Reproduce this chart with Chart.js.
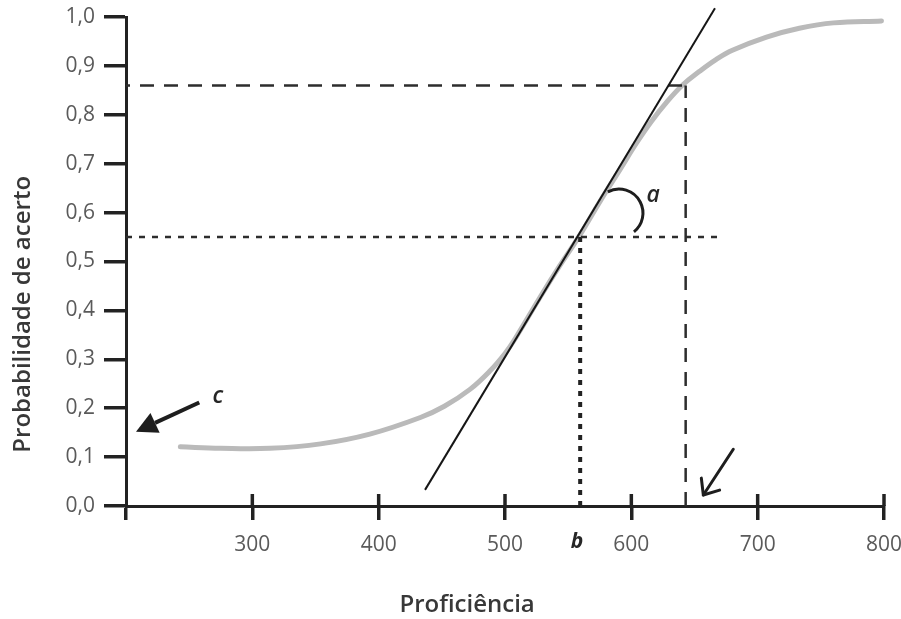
<!DOCTYPE html>
<html>
<head>
<meta charset="utf-8">
<script src="https://cdn.jsdelivr.net/npm/chart.js@4"></script>
<style>
  html, body { margin: 0; padding: 0; background: #ffffff; }
  #wrap { width: 901px; height: 619px; position: relative; }
</style>
</head>
<body>
<div id="wrap"><canvas id="chart"></canvas></div>
<script>
// ---- data ----
const curveX = [243, 275, 314, 354, 393, 433, 452, 472, 488, 500, 508, 528, 543, 559, 575, 591, 604, 616, 628, 641, 654, 667, 680, 707, 733, 760, 798];
const curveY = [0.121, 0.118, 0.118, 0.127, 0.147, 0.181, 0.204, 0.238, 0.276, 0.312, 0.342, 0.428, 0.490, 0.553, 0.622, 0.688, 0.742, 0.787, 0.826, 0.862, 0.889, 0.913, 0.932, 0.959, 0.977, 0.988, 0.992];

const tangentX = [436.7, 666.2];
const tangentY = [0.033, 1.018];

const dashedRefX = 643;     // vertical dashed line
const dashedRefY = 0.86;    // horizontal dashed line
const dottedRefX = 559.5;   // vertical dotted line (b)
const dottedRefY = 0.55;    // horizontal dotted line
const dottedRefEnd = 669;   // where the horizontal dotted line stops

const xMin = 200, xMax = 800, xStep = 100;
const yMin = 0, yMax = 1, yStep = 0.1;
const xTickLabels = ['', '300', '400', '500', '600', '700', '800'];
const yTickLabels = ['0,0', '0,1', '0,2', '0,3', '0,4', '0,5', '0,6', '0,7', '0,8', '0,9', '1,0'];

const xTitle = 'Proficiência';
const yTitle = 'Probabilidade de acerto';

// annotations (data coordinates)
const arrowCFrom = [258.0, 0.2117];
const arrowCTo = [207.9, 0.152];
const arrowBFrom = [680.7, 0.116];
const arrowBTo = [657.0, 0.0225];
const arcACenter = [590.2, 0.599];
const noteLabels = ['a', 'b', 'c'];
const noteX = [617.2, 557.0, 272.8];
const noteY = [0.622, -0.086, 0.2106];

// ---- build ----
const pts = (xs, ys) => xs.map((x, i) => ({ x: x, y: ys[i] }));
const FONT = '"Open Sans", "Noto Sans", sans-serif';
const AXIS = '#222222';

const overlay = {
  id: 'overlay',
  afterDatasetsDraw(chart) {
    const ctx = chart.ctx;
    const xs = chart.scales.x, ys = chart.scales.y;
    const px = v => xs.getPixelForValue(v);
    const py = v => ys.getPixelForValue(v);
    ctx.save();
    // upper part of the x tick marks (they cross the axis)
    ctx.strokeStyle = AXIS;
    ctx.lineWidth = 3.5;
    xs.ticks.forEach(t => {
      if (t.value === xMin) return;
      const x = px(t.value);
      ctx.beginPath();
      ctx.moveTo(x, chart.chartArea.bottom - 12);
      ctx.lineTo(x, chart.chartArea.bottom);
      ctx.stroke();
    });

    // arrow c (filled head)
    {
      const x1 = px(arrowCFrom[0]), y1 = py(arrowCFrom[1]);
      const x2 = px(arrowCTo[0]), y2 = py(arrowCTo[1]);
      const ang = Math.atan2(y2 - y1, x2 - x1);
      const hl = 21, hw = 11;
      const bx = x2 - hl * Math.cos(ang), by = y2 - hl * Math.sin(ang);
      ctx.strokeStyle = '#1e1e1e';
      ctx.fillStyle = '#1e1e1e';
      ctx.lineWidth = 4;
      ctx.beginPath(); ctx.moveTo(x1, y1); ctx.lineTo(bx, by); ctx.stroke();
      ctx.beginPath();
      ctx.moveTo(x2, y2);
      ctx.lineTo(bx + hw * Math.sin(ang), by - hw * Math.cos(ang));
      ctx.lineTo(bx - hw * Math.sin(ang), by + hw * Math.cos(ang));
      ctx.closePath();
      ctx.fill();
    }
    // arrow near the x axis (open head)
    {
      const x1 = px(arrowBFrom[0]), y1 = py(arrowBFrom[1]);
      const x2 = px(arrowBTo[0]), y2 = py(arrowBTo[1]);
      const ang = Math.atan2(y2 - y1, x2 - x1);
      const hl = 17, spread = 40 * Math.PI / 180;
      ctx.strokeStyle = '#1e1e1e';
      ctx.lineWidth = 3;
      ctx.lineCap = 'round';
      ctx.lineJoin = 'round';
      ctx.beginPath(); ctx.moveTo(x1, y1); ctx.lineTo(x2, y2); ctx.stroke();
      ctx.beginPath();
      ctx.moveTo(x2 - hl * Math.cos(ang - spread), y2 - hl * Math.sin(ang - spread));
      ctx.lineTo(x2, y2);
      ctx.lineTo(x2 - hl * Math.cos(ang + spread), y2 - hl * Math.sin(ang + spread));
      ctx.stroke();
    }
    // arc a
    {
      const cx = px(arcACenter[0]), cy = py(arcACenter[1]);
      ctx.strokeStyle = '#1e1e1e';
      ctx.lineWidth = 3;
      ctx.lineCap = 'butt';
      ctx.beginPath();
      ctx.arc(cx, cy, 24, -117.6 * Math.PI / 180, 51.3 * Math.PI / 180, false);
      ctx.stroke();
    }
    // labels a, b, c
    ctx.fillStyle = '#262626';
    ctx.textAlign = 'center';
    ctx.textBaseline = 'alphabetic';
    noteLabels.forEach((t, i) => {
      ctx.font = (t === 'b' ? 'italic 700 21px ' : 'italic 600 23px ') + FONT;
      ctx.fillText(t, px(noteX[i]), py(noteY[i]));
    });

    // axis titles
    ctx.fillStyle = '#383838';
    ctx.font = '600 24px ' + FONT;
    ctx.textAlign = 'center';
    ctx.textBaseline = 'middle';
    ctx.fillText(xTitle, px(470), chart.chartArea.bottom + 99);
    ctx.save();
    ctx.translate(23, py(0.392));
    ctx.rotate(-Math.PI / 2);
    ctx.fillText(yTitle, 0, 0);
    ctx.restore();
    ctx.restore();
  }
};

new Chart(document.getElementById('chart'), {
  type: 'line',
  data: {
    datasets: [
      { data: pts(tangentX, tangentY), borderColor: '#161616', borderWidth: 2, pointRadius: 0, clip: false, tension: 0 },
      { data: [{ x: xMin, y: dashedRefY }, { x: dashedRefX, y: dashedRefY }], borderColor: '#2d2d2d', borderWidth: 2.5, borderDash: [14, 10], borderDashOffset: 10, pointRadius: 0 },
      { data: [{ x: dashedRefX, y: yMin }, { x: dashedRefX, y: dashedRefY }], borderColor: '#2d2d2d', borderWidth: 2.5, borderDash: [14, 10], pointRadius: 0 },
      { data: [{ x: xMin, y: dottedRefY }, { x: dottedRefEnd, y: dottedRefY }], borderColor: '#2d2d2d', borderWidth: 2.5, borderDash: [6, 7], pointRadius: 0 },
      { data: [{ x: dottedRefX, y: yMin }, { x: dottedRefX, y: dottedRefY }], borderColor: '#222222', borderWidth: 4, borderDash: [5, 6], pointRadius: 0 },
      { data: pts(curveX, curveY), borderColor: '#bababa', borderWidth: 5, pointRadius: 0, tension: 0.4, borderCapStyle: 'round', borderJoinStyle: 'round' }
    ]
  },
  options: {
    responsive: true,
    maintainAspectRatio: false,
    animation: false,
    events: [],
    layout: { padding: { left: 0, top: 17, right: 17, bottom: 0 } },
    plugins: { legend: { display: false }, tooltip: { enabled: false }, title: { display: false } },
    scales: {
      x: {
        type: 'linear',
        min: xMin, max: xMax,
        afterFit: s => { s.height = 113; s.paddingLeft = 0; s.paddingRight = 0; },
        ticks: {
          stepSize: xStep,
          autoSkip: false,
          maxRotation: 0,
          padding: 12,
          color: '#5a5a5a',
          font: { family: FONT, size: 21 },
          callback: (v, i) => xTickLabels[i]
        },
        grid: { drawOnChartArea: false, drawTicks: true, tickLength: 14, lineWidth: 3.5, color: AXIS },
        border: { display: true, width: 3, color: AXIS },
        title: { display: false }
      },
      y: {
        type: 'linear',
        min: yMin, max: yMax,
        afterFit: s => { s.width = 126; s.paddingTop = 0; s.paddingBottom = 0; },
        ticks: {
          stepSize: yStep,
          autoSkip: false,
          padding: 9,
          color: '#5a5a5a',
          font: { family: FONT, size: 21 },
          callback: (v, i) => yTickLabels[i]
        },
        grid: { drawOnChartArea: false, drawTicks: true, tickLength: 22, lineWidth: 3.5, color: AXIS },
        border: { display: true, width: 3, color: AXIS },
        title: { display: false }
      }
    }
  },
  plugins: [overlay]
});
</script>
</body>
</html>
